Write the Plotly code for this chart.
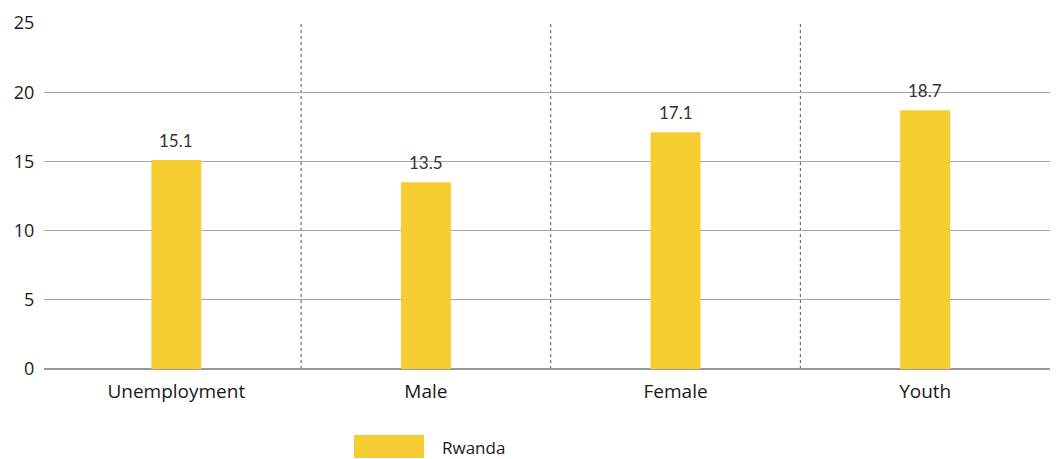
import plotly.graph_objects as go

categories = ["Unemployment", "Male", "Female", "Youth"]
rwanda_values = [15.1, 13.5, 17.1, 18.7]
y_ticks = [0, 5, 10, 15, 20, 25]
series_name = "Rwanda"

BAR_COLOR = "#F6CE34"
GRID_COLOR = "#A6A6A6"
TEXT_COLOR = "#1A1A1A"

fig = go.Figure()
fig.add_trace(go.Bar(
    x=categories,
    y=rwanda_values,
    name=series_name,
    marker=dict(color=BAR_COLOR, line=dict(width=0)),
    width=0.2,
    showlegend=False,
))

# value labels above each bar
for cat, val in zip(categories, rwanda_values):
    fig.add_annotation(x=cat, y=val, xref="x", yref="y",
                       text=f"{val:.1f}", showarrow=False,
                       yanchor="bottom", yshift=7,
                       font=dict(family="Lato, Open Sans, sans-serif", size=17, color="#333333"))

# dotted separators between categories
for b in [0.5, 1.5, 2.5]:
    fig.add_shape(type="line", xref="x", yref="y", x0=b, x1=b, y0=0, y1=25,
                  line=dict(color="#555555", width=1, dash="dot"), layer="below")

# legend swatch and label
fig.add_shape(type="rect", xref="paper", yref="paper",
              x0=(354 - 44) / 1006, x1=(424 - 44) / 1006,
              y0=-(458 - 369) / 346, y1=-(435 - 369) / 346,
              fillcolor=BAR_COLOR, line=dict(width=0))
fig.add_annotation(xref="paper", yref="paper",
                   x=(440 - 44) / 1006, y=-(447 - 369) / 346,
                   text=series_name, showarrow=False, xanchor="left", yanchor="middle",
                   font=dict(family="Open Sans, sans-serif", size=17, color=TEXT_COLOR))

fig.update_layout(
    width=1057, height=459,
    margin=dict(l=44, r=7, t=23, b=90),
    plot_bgcolor="white", paper_bgcolor="white",
    font=dict(family="Open Sans, sans-serif", size=17, color=TEXT_COLOR),
    showlegend=False,
)
fig.update_xaxes(
    showgrid=False, showline=False, zeroline=False,
    ticks="outside", ticklen=5, tickcolor="rgba(0,0,0,0)",
    tickfont=dict(size=19, color=TEXT_COLOR),
    range=[-0.53, 3.5],
)
fig.update_yaxes(
    range=[0, 25], tickvals=y_ticks,
    showgrid=True, gridcolor=GRID_COLOR, gridwidth=1,
    zeroline=True, zerolinecolor="#999999", zerolinewidth=2,
    showline=False, ticks="outside", ticklen=5, tickcolor="rgba(0,0,0,0)",
    tickfont=dict(size=18, color=TEXT_COLOR),
)

fig.write_html("out.html")
